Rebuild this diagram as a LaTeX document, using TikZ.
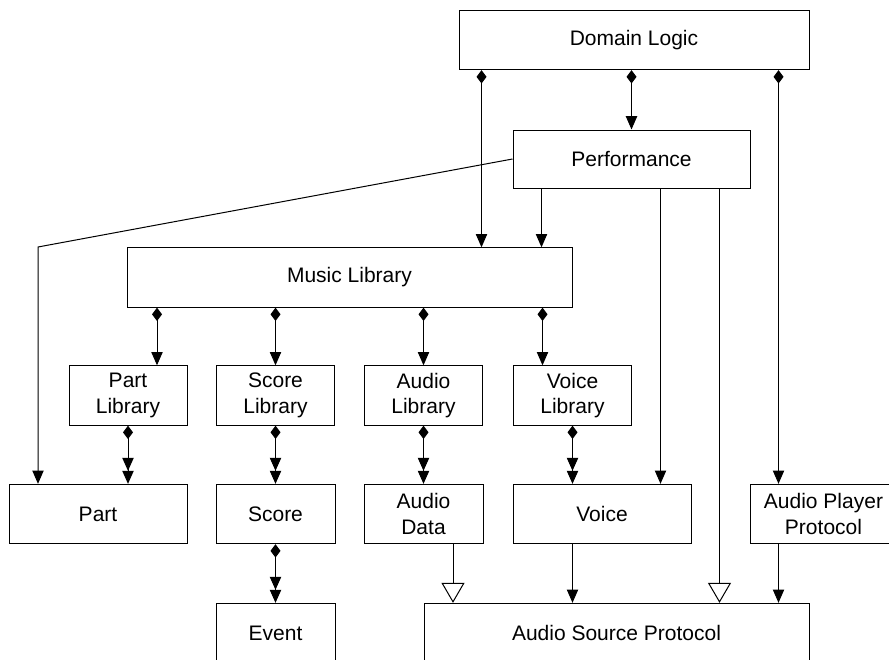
\documentclass[tikz,border=0pt]{standalone}
\usepackage{fontspec}
\setmainfont{Liberation Sans}
\usetikzlibrary{calc, arrows.meta}

\tikzset{
  cls/.style={draw, line width=0.75pt, inner sep=0pt, align=center, minimum height=44.5pt,
    font=\fontsize{15.75pt}{19pt}\selectfont},
  arr/.style={line width=0.75pt, -{Triangle[length=10pt,width=8.5pt]}},
  comp/.style={line width=0.75pt, {Diamond[length=10pt,width=7.5pt]}-{Triangle[length=10pt,width=8.5pt]}},
  compdbl/.style={line width=0.75pt, {Diamond[length=10pt,width=7.5pt]}-{Triangle[length=9.75pt,width=8.5pt]Triangle[length=9.75pt,width=8.5pt]}},
  gen/.style={line width=0.75pt, -{Triangle[open,length=15pt,width=17.25pt,fill=white]}}
}

\begin{document}
\begin{tikzpicture}[x=0.75pt, y=-0.75pt]
                \useasboundingbox (0,0) rectangle (889,660);
                % classes
                \node[cls, minimum width=262.5pt] (dom) at (634,40) {Domain Logic};
                \node[cls, minimum width=177.75pt, minimum height=43.5pt] (perf) at (631.5,159) {Performance};
                \node[cls, minimum width=333.75pt] (music) at (349.5,277.5) {Music Library};
                \node[cls, minimum width=88.5pt] (partlib) at (128,395.5) {Part\\Library};
                \node[cls, minimum width=88.5pt] (scorelib) at (275.5,395.5) {Score\\Library};
                \node[cls, minimum width=88.5pt] (audiolib) at (423.5,395.5) {Audio\\Library};
                \node[cls, minimum width=88.5pt] (voicelib) at (572.5,395.5) {Voice\\Library};
                \node[cls, minimum width=133.5pt] (part) at (98,514) {Part};
                \node[cls, minimum width=89.25pt] (score) at (275.5,514) {Score};
                \node[cls, minimum width=89.25pt] (audiodata) at (423.5,514) {Audio\\Data};
                \node[cls, minimum width=133.5pt] (voice) at (602,514) {Voice};
                \node[cls, minimum width=110.25pt] (app) at (823.5,514) {Audio Player\\Protocol};
                \node[cls, minimum width=89.25pt] (event) at (275.5,633) {Event};
                \node[cls, minimum width=288.75pt] (asp) at (616.5,633) {Audio Source Protocol};

                % domain logic
                \draw[comp] (perf.north |- dom.south) -- (perf.north);
                \draw[comp] ($(dom.south west)+(23,0)$) coordinate (dl) -- (dl |- music.north);
                \coordinate (dp) at ($(app.north west)+(29,0)$);
                \draw[comp] (dom.south -| dp) -- (dp);
                \draw[arr] (dp |- app.south) -- (dp |- asp.north);

                % performance
                \coordinate (bend) at (38,247);
                \draw[arr] (perf.west) -- (bend) -- (bend |- part.north);
                \draw[arr] ($(perf.south west)+(29,0)$) coordinate (pm) -- (pm |- music.north);
                \draw[arr] ($(perf.south west)+(148,0)$) coordinate (pv) -- (pv |- voice.north);
                \draw[gen] ($(perf.south west)+(207,0)$) coordinate (pa) -- (pa |- asp.north);

                % libraries
                \foreach \lib/\dx in {partlib/29, scorelib/0, audiolib/0, voicelib/-30}{
                    \coordinate (t) at ($(\lib.north)+(\dx,0)$);
                    \draw[comp] (music.south -| t) -- (t);
                }
                \foreach \a/\b in {partlib/part, scorelib/score, audiolib/audiodata, voicelib/voice, score/event}{
                    \draw[compdbl] (\a.south) -- (\a.south |- \b.north);
                }

                % audio source
                \draw[gen] ($(audiodata.south)+(29.5,0)$) coordinate (ag) -- (ag |- asp.north);
                \draw[arr] (voicelib.south |- voice.south) -- (voicelib.south |- asp.north);
            \end{tikzpicture}
\end{document}
